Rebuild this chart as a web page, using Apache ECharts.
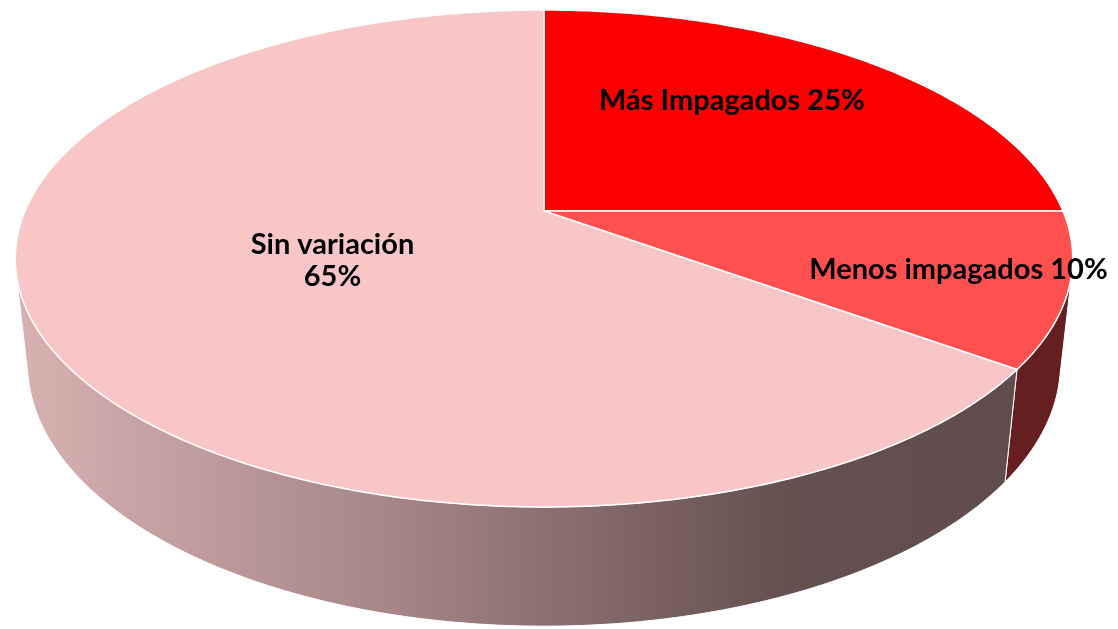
<!DOCTYPE html>
<html>
<head>
<meta charset="utf-8">
<script src="https://cdn.jsdelivr.net/npm/echarts@6/dist/echarts.min.js"></script>
<style>html,body{margin:0;background:#fff}#main{width:1118px;height:629px}</style>
</head>
<body>
<div id="main"></div>
<script>
var categories = ['Más Impagados', 'Menos impagados', 'Sin variación'];
var values = [25, 10, 65];
var topColors = ['#fa0000', '#ff5050', '#f9c6c7'];

// camera for the tilted (perspective) pie
var cx = 544, cy = 211;
var tilt = 27.47 * Math.PI / 180;
var sinA = Math.sin(tilt), cosA = Math.cos(tilt);
var dist = 4.642, focal = 2409, thick = 0.23;
var labelR = [0.55, 0.8, 0.44];
var labelDy = [-24, -3, 0];
var labelSep = [' ', ' ', '\n'];

function project(t, r, y) {
    var X = r * Math.sin(t), Z = -r * Math.cos(t);
    var d = dist - y * sinA - Z * cosA;
    return [cx + focal * X / d, cy - focal * (y * cosA - Z * sinA) / d];
}
function arc(t1, t2, y) {
    var pts = [], n = Math.max(2, Math.ceil((t2 - t1) / 0.01));
    for (var i = 0; i <= n; i++) pts.push(project(t1 + (t2 - t1) * i / n, 1, y));
    return pts;
}

var total = values.reduce(function (a, b) { return a + b; }, 0);
var starts = [], acc = 0;
values.forEach(function (v) { starts.push(acc / total * 2 * Math.PI); acc += v; });
// the outer wall only faces the camera where cos(t) < -1/(dist*cosA)
var visFrom = Math.acos(-1 / (dist * cosA)), visTo = 2 * Math.PI - visFrom;
var wallColors = ['#7a0c0c', '#661f20',
    new echarts.graphic.LinearGradient(15, 0, 1073, 0, [
        {offset: 0, color: '#d9b1b1'},
        {offset: 0.36, color: '#a58585'},
        {offset: 0.72, color: '#665151'},
        {offset: 1, color: '#5f4b4b'}
    ], true)];

function renderItem(params, api) {
    var i = params.dataIndex;
    var v = api.value(0);
    var t1 = starts[i], t2 = t1 + v / total * 2 * Math.PI;
    var children = [];
    var w1 = Math.max(t1, visFrom), w2 = Math.min(t2, visTo);
    if (w2 > w1) {
        children.push({
            type: 'polygon', z2: 1,
            shape: {points: arc(w1, w2, 0).concat(arc(w1, w2, -thick).reverse())},
            style: {fill: wallColors[i], stroke: '#fff', lineWidth: 1}
        });
    }
    children.push({
        type: 'polygon', z2: 5,
        shape: {points: [project(0, 0, 0)].concat(arc(t1, t2, 0))},
        style: {fill: topColors[i], stroke: '#fff', lineWidth: 1.5}
    });
    var p = project((t1 + t2) / 2, labelR[i], 0);
    children.push({
        type: 'text', z2: 10,
        style: {
            text: categories[i] + labelSep[i] + Math.round(v / total * 100) + '%',
            x: p[0], y: p[1] + labelDy[i],
            align: 'center', verticalAlign: 'middle',
            font: 'bold 29px Lato', lineHeight: 32, fill: '#000'
        }
    });
    return {type: 'group', children: children};
}

var myChart = echarts.init(document.getElementById('main'));
option = {
    animation: false,
    series: [
        {
            type: 'custom',
            coordinateSystem: 'none',
            silent: true,
            renderItem: renderItem,
            data: values
        }
    ]
};
myChart.setOption(option);
</script>
</body>
</html>
